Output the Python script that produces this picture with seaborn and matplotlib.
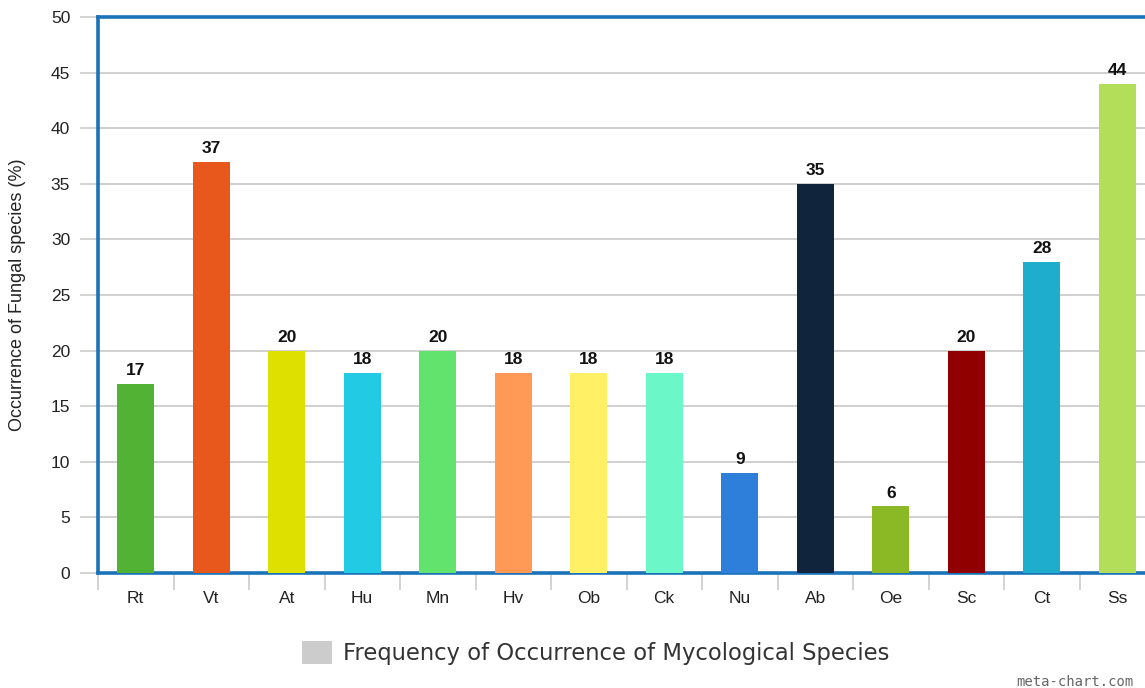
import matplotlib
matplotlib.use("Agg")
import matplotlib.pyplot as plt
import seaborn as sns
import pandas as pd
from matplotlib.patches import Patch

species = ["Rt", "Vt", "At", "Hu", "Mn", "Hv", "Ob", "Ck", "Nu", "Ab", "Oe", "Sc", "Ct", "Ss"]
occurrence = [17, 37, 20, 18, 20, 18, 18, 18, 9, 35, 6, 20, 28, 44]
bar_colors = ["#52B233", "#E8581C", "#DEE000", "#22CBE3", "#62E36E", "#FF9955", "#FFF066",
              "#6CF7C8", "#2D7FD9", "#10243C", "#8AB925", "#900000", "#1EADCD", "#B2DE5A"]
y_ticks = [0, 5, 10, 15, 20, 25, 30, 35, 40, 45, 50]

df = pd.DataFrame({"species": species, "occurrence": occurrence})

sns.set_theme(style="white")
plt.rcParams["font.family"] = ["Liberation Sans", "DejaVu Sans"]

fig = plt.figure(figsize=(11.45, 6.88), dpi=100)
ax = fig.add_axes([98 / 1145, (688 - 573) / 688, 1057 / 1145, (573 - 17) / 688])

sns.barplot(data=df, x="species", y="occurrence", hue="species", palette=bar_colors,
            order=species, hue_order=species, legend=False, width=0.49, saturation=1,
            linewidth=0, ax=ax, zorder=3)

for cont in ax.containers:
    ax.bar_label(cont, fmt="%d", padding=4, fontsize=12.5, fontweight="bold", color="#111111")

ax.set_ylim(0, 50)
ax.set_xlim(-0.5, len(species) - 0.5)
ax.set_yticks(y_ticks)
ax.yaxis.grid(True, color="#C8C8C8", linewidth=1.2, zorder=0)
ax.set_axisbelow(True)

ax.tick_params(axis="y", which="major", length=13, width=1.1, color="#C8C8C8",
               labelsize=12.5, labelcolor="#222222", pad=7, left=True)
ax.tick_params(axis="x", which="major", length=0, labelsize=12.5, labelcolor="#222222", pad=13)
ax.set_xticks([i - 0.5 for i in range(len(species) + 1)], minor=True)
ax.tick_params(axis="x", which="minor", length=12, width=1.1, color="#C8C8C8", bottom=True)

for side in ["left", "top", "bottom", "right"]:
    ax.spines[side].set_color("#1A73B8")
    ax.spines[side].set_linewidth(2.6)

ax.set_xlabel("")
ax.set_ylabel("Occurrence of Fungal species (%)", fontsize=13, color="#222222", labelpad=18)

handle = Patch(facecolor="#CCCCCC", edgecolor="none")
fig.legend([handle], ["Frequency of Occurrence of Mycological Species"],
           loc="center", bbox_to_anchor=(596 / 1145, 1 - 653 / 688), frameon=False,
           prop={"family": "DejaVu Sans", "size": 16.3}, labelcolor="#333333",
           handlelength=1.3, handleheight=1.2, handletextpad=0.5)

fig.text(1016 / 1145, 1 - 682 / 688, "meta-chart.com", fontsize=10, color="#666666",
         family="DejaVu Sans Mono", va="center", ha="left")

fig.savefig("out.png", dpi=100)
